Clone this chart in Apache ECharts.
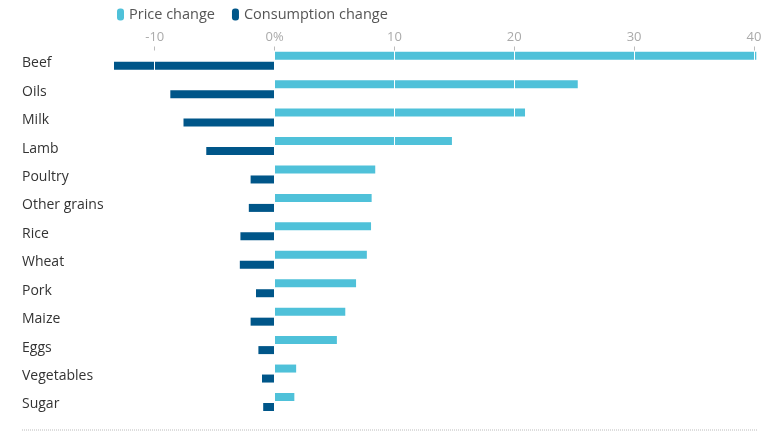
<!DOCTYPE html>
<html><head><meta charset="utf-8">
<script src="https://cdn.jsdelivr.net/npm/echarts@6/dist/echarts.min.js"></script>
<style>html,body{margin:0;padding:0;background:#fff}#c{width:770px;height:433px}</style>
</head><body><div id="c"></div>
<script>
const categories = ['Beef','Oils','Milk','Lamb','Poultry','Other grains','Rice','Wheat','Pork','Maize','Eggs','Vegetables','Sugar'];
const priceChange = [40.2, 25.3, 20.9, 14.8, 8.4, 8.1, 8.05, 7.7, 6.8, 5.9, 5.2, 1.8, 1.65];
const consumptionChange = [-13.4, -8.7, -7.6, -5.7, -2.0, -2.15, -2.85, -2.9, -1.55, -2.0, -1.35, -1.05, -0.95];
const tickValues = [-10, 0, 10, 20, 30, 40];
const seriesNames = ['Price change', 'Consumption change'];

const chart = echarts.init(document.getElementById('c'));
const font = "'Open Sans', 'Noto Sans', sans-serif";
chart.setOption({
  animation: false,
  textStyle: { fontFamily: font },
  legend: {
    left: 112, top: 2, itemGap: 17, itemWidth: 7, itemHeight: 12,
    icon: 'path://M3,0 H4 A3,3 0 0 1 7,3 V9 A3,3 0 0 1 4,12 H3 A3,3 0 0 1 0,9 V3 A3,3 0 0 1 3,0 Z',
    textStyle: { fontSize: 14.5, color: '#555', fontFamily: font },
    data: seriesNames
  },
  grid: { left: 114, right: 12.5, top: 46.5, bottom: 16.8, containLabel: false },
  xAxis: {
    type: 'value', position: 'top', min: -13.4, max: 40.3, z: 5,
    axisLine: { show: false },
    axisTick: { show: true, inside: true, length: 4, lineStyle: { color: '#bbb' }, customValues: tickValues },
    axisLabel: { customValues: tickValues, color: '#aaa', fontSize: 13, margin: 3,
      formatter: v => v === 0 ? '0%' : String(v) },
    splitLine: { show: true, lineStyle: { color: '#fff', width: 1 } }
  },
  yAxis: {
    type: 'category', data: categories, inverse: true,
    axisLine: { show: false }, axisTick: { show: false },
    axisLabel: { align: 'left', margin: 92, color: '#333', fontSize: 14,
      formatter: v => '{a|' + v + '}',
      rich: { a: { fontSize: 14, color: '#333', fontFamily: font, padding: [5, 0, 0, 0] } } }
  },
  series: [
    { name: seriesNames[0], type: 'bar', data: priceChange, barWidth: 8, barGap: '25%',
      itemStyle: { color: '#4fc1d9' } },
    { name: seriesNames[1], type: 'bar', data: consumptionChange, barWidth: 8, barGap: '25%',
      itemStyle: { color: '#005689' } }
  ],
  graphic: [{
    type: 'line', shape: { x1: 22, y1: 430, x2: 757, y2: 430 },
    style: { stroke: '#bbb', lineWidth: 1, lineDash: [1, 1] }
  }]
});
</script></body></html>
